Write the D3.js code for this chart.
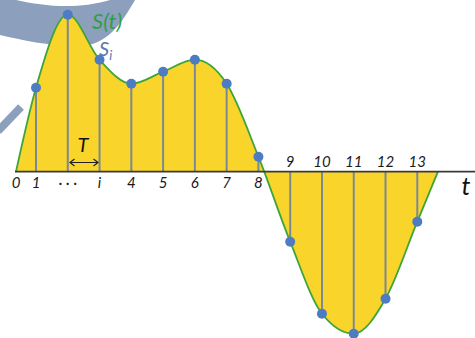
<!DOCTYPE html>
<html>
<head>
<meta charset="utf-8">
<script src="https://cdn.jsdelivr.net/npm/d3@7"></script>
<style>
  html, body { margin: 0; padding: 0; background: #fff; }
  svg { display: block; }
  text { font-family: Lato, "Open Sans", sans-serif; font-style: italic; }
</style>
</head>
<body>
<svg id="chart" width="475" height="338"></svg>
<script>
// Sample instants (in units of T) and sampled signal values S_i
const sampleIdx = [1, 2, 3, 4, 5, 6, 7, 8, 9, 10, 11, 12, 13];
const sampleVals = [8.4, 15.7, 11.2, 8.8, 10.0, 11.2, 8.8, 1.5, -7.0, -14.2, -16.2, -12.7, -5.0];

// Where the continuous signal S(t) starts and ends on the time axis
const curveStart = { t: 0.37, v: 0 };
const curveEnd = { t: 13.65, v: 0 };

// Tick labels along the t axis
const tickPos = [0.37, 1, 2, 3, 4, 5, 6, 7, 8, 9, 10, 11, 12, 13];
const tickText = ["0", "1", "· · ·", "i", "4", "5", "6", "7", "8", "9", "10", "11", "12", "13"];

const svg = d3.select("#chart");
const W = 475;

const x = d3.scaleLinear().domain([1, 13]).range([36, 417.3]);
const y = d3.scaleLinear().domain([0, 10]).range([171.7, 71.7]);

const samples = sampleIdx.map((t, i) => ({ t, v: sampleVals[i] }));
const curvePts = [curveStart, ...samples, curveEnd];

// Decorative swoosh in the top-left corner
svg.append("path")
  .attr("d", "M0,-4 C30,4 70,12 110,0 L135,0 C122,22 108,46 78,46 C48,46 22,40 0,35 Z")
  .attr("fill", "#8c9fbc");
svg.append("line")
  .attr("x1", -2).attr("y1", 131).attr("x2", 21).attr("y2", 107)
  .attr("stroke", "#8c9fbc").attr("stroke-width", 8);

// Filled area between S(t) and the axis
const area = d3.area()
  .x(d => x(d.t))
  .y0(y(0))
  .y1(d => y(d.v))
  .curve(d3.curveMonotoneX);
svg.append("path")
  .datum(curvePts)
  .attr("d", area)
  .attr("fill", "#f9d52b");

// Sample stems
svg.append("g")
  .selectAll("line")
  .data(samples)
  .join("line")
  .attr("x1", d => x(d.t)).attr("x2", d => x(d.t))
  .attr("y1", y(0)).attr("y2", d => y(d.v))
  .attr("stroke", "#7b8896")
  .attr("stroke-width", 2);

// Continuous signal S(t)
const line = d3.line()
  .x(d => x(d.t))
  .y(d => y(d.v))
  .curve(d3.curveMonotoneX);
svg.append("path")
  .datum(curvePts)
  .attr("d", line)
  .attr("fill", "none")
  .attr("stroke", "#3da53a")
  .attr("stroke-width", 1.8);

// Time axis
svg.append("line")
  .attr("x1", x(curveStart.t) - 1).attr("x2", W)
  .attr("y1", y(0)).attr("y2", y(0))
  .attr("stroke", "#3a3a3a")
  .attr("stroke-width", 1.8);

// Sample dots
svg.append("g")
  .selectAll("circle")
  .data(samples)
  .join("circle")
  .attr("cx", d => x(d.t))
  .attr("cy", d => y(d.v))
  .attr("r", 5)
  .attr("fill", "#4d7cc2");

// Tick labels: below the axis for positive samples, above for negative ones
const valueAt = t => {
  const s = samples.find(d => d.t === t);
  return s ? s.v : 0;
};
svg.append("g")
  .selectAll("text")
  .data(tickPos)
  .join("text")
  .attr("x", d => x(d))
  .attr("y", d => valueAt(d) < 0 ? y(0) - 5 : y(0) + 16)
  .attr("text-anchor", "middle")
  .attr("font-size", 15)
  .attr("fill", "#1a1a1a")
  .text((d, i) => tickText[i]);

// Sampling period marker
svg.append("text")
  .attr("x", 83).attr("y", 152)
  .attr("text-anchor", "middle")
  .attr("font-size", 20)
  .attr("fill", "#111")
  .text("T");
svg.append("path")
  .attr("d", "M70,162.5 L98,162.5 M74.5,159 L70,162.5 L74.5,166 M93.5,159 L98,162.5 L93.5,166")
  .attr("fill", "none")
  .attr("stroke", "#222")
  .attr("stroke-width", 1.2);

// Axis name
svg.append("text")
  .attr("x", 466).attr("y", 195)
  .attr("text-anchor", "middle")
  .attr("font-size", 25)
  .attr("fill", "#111")
  .text("t");

// Legend-style labels
svg.append("text")
  .attr("x", 92).attr("y", 29)
  .attr("font-size", 22)
  .attr("fill", "#2f9e4a")
  .text("S(t)");
const si = svg.append("text")
  .attr("x", 99).attr("y", 56)
  .attr("font-size", 20)
  .attr("fill", "#5a74ad");
si.append("tspan").text("S");
si.append("tspan").attr("font-size", 13).attr("dy", 4).text("i");
</script>
</body>
</html>
